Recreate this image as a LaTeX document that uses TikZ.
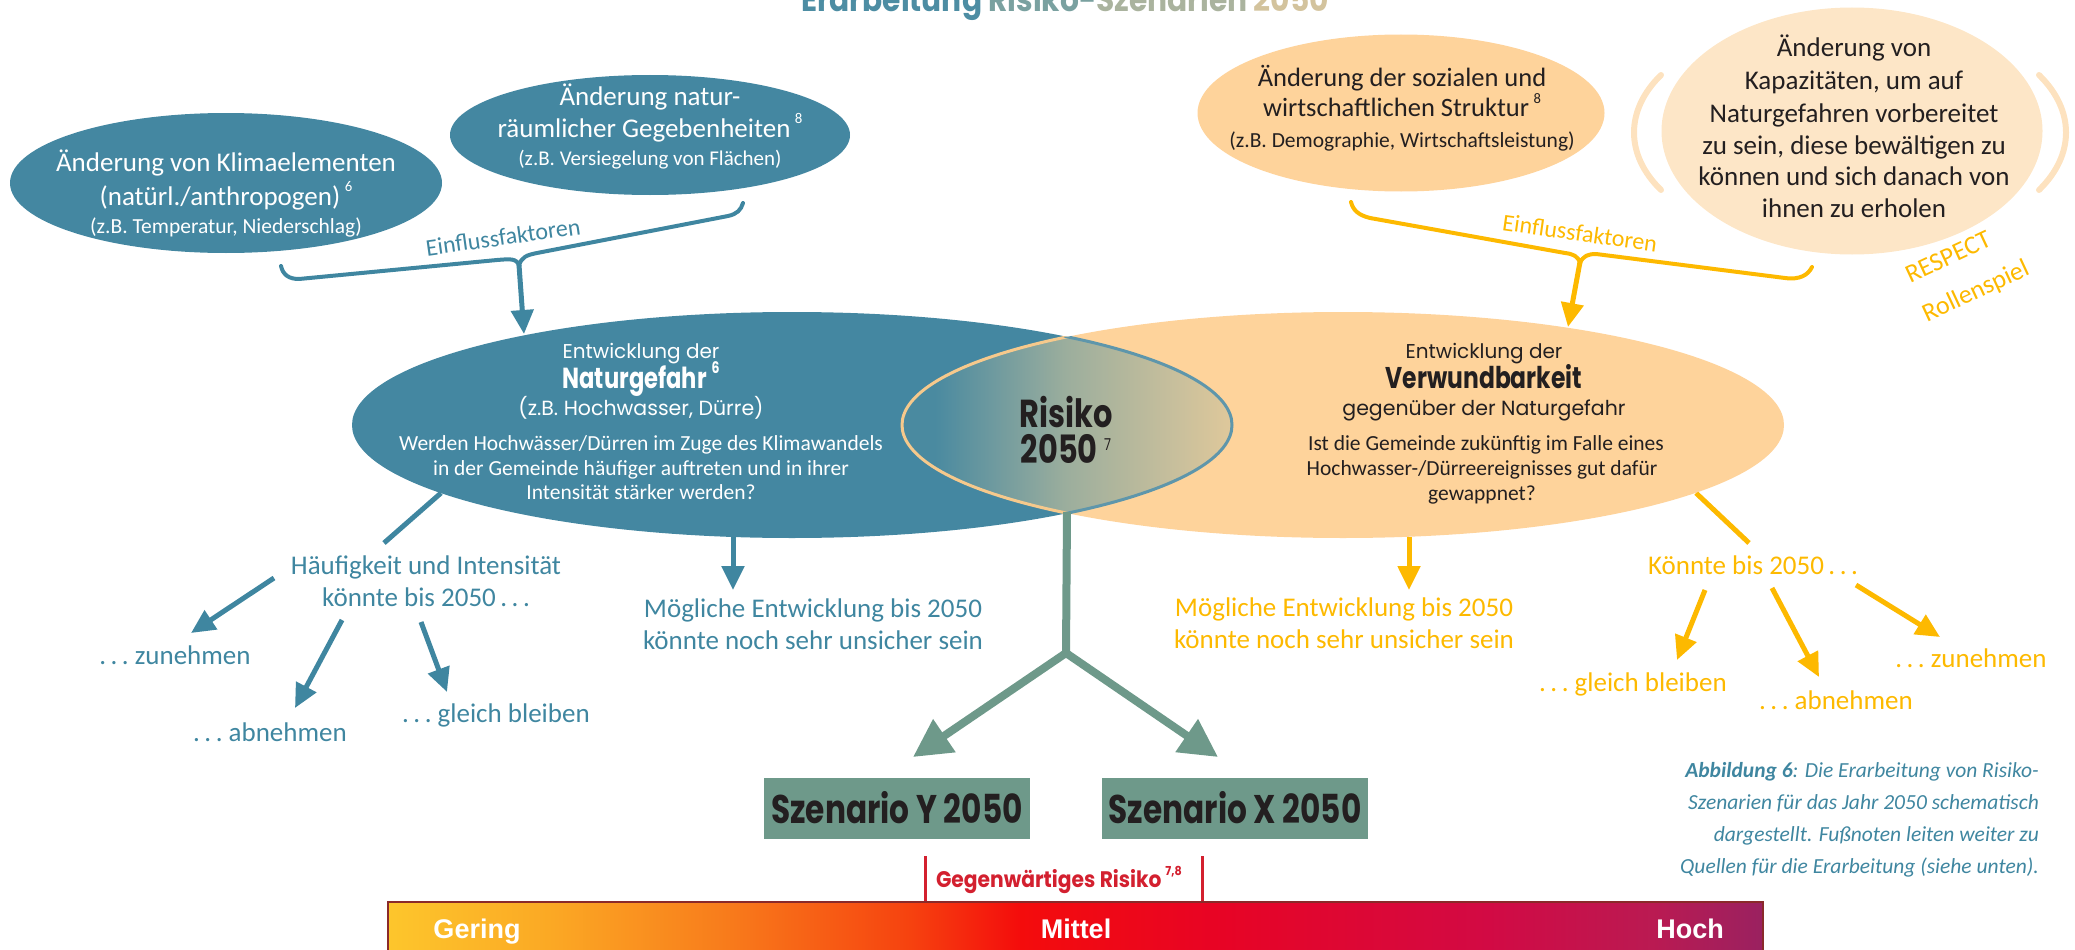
\documentclass[tikz,border=0pt]{standalone}
\usepackage{fontspec}
\setmainfont{Carlito}
\newfontfamily\geo{Poppins}
\newfontfamily\geoc{Poppins}[FakeStretch=0.78]
\newfontfamily\geom{Poppins}[FakeStretch=0.9]
\newfontfamily\helv{Liberation Sans}
\usetikzlibrary{arrows.meta,shapes.geometric}
\newcommand\fsz[1]{\fontsize{#1}{#1}\selectfont}
\newcommand\supx[1]{\raisebox{0.5em}{\scalebox{0.55}{#1}}}
\definecolor{cblue}{HTML}{4487A1}
\definecolor{ctblue}{HTML}{3F86A0}
\definecolor{corange}{HTML}{FED39B}
\definecolor{clight}{HTML}{FDE6C7}
\definecolor{cparen}{HTML}{FDE2BF}
\definecolor{cgold}{HTML}{FDB900}
\definecolor{cgreen}{HTML}{6E998A}
\definecolor{cdark}{HTML}{231F20}
\definecolor{cred}{HTML}{D3202F}
\definecolor{lensL}{HTML}{4A8AA0}
\definecolor{lensM}{HTML}{9CAE9D}
\definecolor{lensR}{HTML}{DFC89B}
\definecolor{lensO}{HTML}{F6C98C}
\definecolor{lensB}{HTML}{5E96AB}
\definecolor{tA}{HTML}{4D8DA3}
\definecolor{tB}{HTML}{7AA1A0}
\definecolor{tC}{HTML}{AAB39E}
\definecolor{tD}{HTML}{D3C39D}
\definecolor{b0}{HTML}{FDC62C}
\definecolor{b1}{HTML}{FBA824}
\definecolor{b2}{HTML}{F87A1B}
\definecolor{b3}{HTML}{F6420F}
\definecolor{b4}{HTML}{F40C0C}
\definecolor{b5}{HTML}{E80424}
\definecolor{b6}{HTML}{D20A44}
\definecolor{b7}{HTML}{BA1A52}
\definecolor{b8}{HTML}{9A2160}
\definecolor{barborder}{HTML}{8A2A2A}
\pgfdeclarehorizontalshading{riskbar}{100bp}{color(0bp)=(b0); color(25bp)=(b0); color(31bp)=(b1); color(37.5bp)=(b2); color(44bp)=(b3); color(48bp)=(b4); color(55bp)=(b5); color(65bp)=(b6); color(71bp)=(b7); color(75bp)=(b8); color(100bp)=(b8)}
\pgfdeclarehorizontalshading{lensshade}{100bp}{color(0bp)=(lensL); color(25bp)=(lensL); color(30bp)=(lensL); color(50bp)=(lensM); color(75bp)=(lensR); color(100bp)=(lensR)}
\begin{document}
\begin{tikzpicture}[x=1pt,y=-1pt,
  ell/.style={ellipse, inner sep=0pt, outer sep=0pt},
  lbl/.style={anchor=base, inner sep=0pt, outer sep=0pt},
  wt/.style={lbl, text=white},
  dk/.style={lbl, text=cdark},
  bt/.style={lbl, text=ctblue, font=\fsz{27}},
  gt/.style={lbl, text=cgold, font=\fsz{27}},
  barr/.style={draw=ctblue, line width=5pt, -{Triangle[length=24pt,width=22pt]}},
  garr/.style={draw=cgold, line width=5pt, -{Triangle[length=24pt,width=22pt]}},
  sarr/.style={draw=cgreen, line width=8pt, -{Triangle[length=38pt,width=38pt]}},
  bracepath/.style={line width=4pt, line cap=round, line join=round},
  scen/.style={rectangle, fill=cgreen, minimum width=266pt, minimum height=61pt, inner sep=0pt, text=cdark, font=\geoc\bfseries\fsz{40}},
  barlbl/.style={lbl, text=white, font=\helv\bfseries\fsz{27}},
  capt/.style={anchor=base east, inner sep=0pt, text=ctblue, font=\itshape\fsz{21.5}}
]
\useasboundingbox (0,0) rectangle (2075,950);
\clip (0,0) rectangle (2075,950);

% title (cut off at top)
\node[lbl, font=\geom\bfseries\fsz{33}] (title) at (1065,12)
  {\textcolor{tA}{Erarbeitung} \textcolor{tB}{Risiko-}\textcolor{tC}{Szenarien} \textcolor{tD}{2050}};

% ---------- upper left ellipses ----------
\node[ell, fill=cblue, minimum width=432pt, minimum height=140pt] (klima) at (226,183) {};
\node[ell, fill=cblue, minimum width=400pt, minimum height=120pt] (natur) at (650,135) {};
\node[wt, font=\fsz{27}] (k1) at (226,171) {Änderung von Klimaelementen};
\node[wt, font=\fsz{27}] (k2) at (226,205) {(natürl./anthropogen)\,\supx{6}};
\node[wt, font=\fsz{21.5}] (k3) at (226,233) {(z.B. Temperatur, Niederschlag)};
\node[wt, font=\fsz{27}] (n1) at (650,106) {Änderung natur-};
\node[wt, font=\fsz{27}] (n2) at (650,137) {räumlicher Gegebenheiten\,\supx{8}};
\node[wt, font=\fsz{21}] (n3) at (650,165) {(z.B. Versiegelung von Flächen)};

% blue brace
\draw[bracepath, ctblue] (281,266) .. controls (283,275) and (289,279) .. (299,279)
  -- (497,260) .. controls (510,259) and (517,258) .. (519,266)
  .. controls (521,257) and (527,255) .. (537,253)
  -- (728,216) .. controls (737,214) and (741,210) .. (743,203);
\node[text=ctblue, font=\fsz{24}, rotate=8, inner sep=0pt] (einfl1) at (503,237) {Einflussfaktoren};

% ---------- upper right ellipses ----------
\node[ell, fill=corange, minimum width=407pt, minimum height=157pt] (sozial) at (1401,113) {};
\node[ell, fill=clight, minimum width=381pt, minimum height=247pt] (kapaz) at (1852,131) {};
\draw[cparen, line width=6pt, line cap=round] (1661,75) .. controls (1625,110) and (1625,155) .. (1661,190);
\draw[cparen, line width=6pt, line cap=round] (2039,75) .. controls (2075,110) and (2075,155) .. (2039,190);
\node[dk, font=\fsz{26.5}] (s1) at (1402,86) {Änderung der sozialen und};
\node[dk, font=\fsz{26.5}] (s2) at (1402,117) {wirtschaftlichen Struktur\,\supx{8}};
\node[dk, font=\fsz{21.5}] (s3) at (1402,147) {(z.B. Demographie, Wirtschaftsleistung)};
\node[dk, font=\fsz{27}] (c1) at (1854,57) {Änderung von};
\node[dk, font=\fsz{27}] (c2) at (1854,89) {Kapazitäten, um auf};
\node[dk, font=\fsz{27}] (c3) at (1854,122) {Naturgefahren vorbereitet};
\node[dk, font=\fsz{27}] (c4) at (1854,154) {zu sein, diese bewältigen zu};
\node[dk, font=\fsz{27}] (c5) at (1854,185) {können und sich danach von};
\node[dk, font=\fsz{27}] (c6) at (1854,217) {ihnen zu erholen};
\node[text=cgold, font=\fsz{26}, rotate=25, inner sep=0pt] (resp1) at (1948,257) {RESPECT};
\node[text=cgold, font=\fsz{26}, rotate=25, inner sep=0pt] (resp2) at (1976,292) {Rollenspiel};

% orange brace
\draw[bracepath, cgold] (1351,202) .. controls (1353,210) and (1358,215) .. (1370,218)
  -- (1565,253) .. controls (1573,254) and (1578,256) .. (1580,263)
  .. controls (1583,256) and (1588,254) .. (1596,254)
  -- (1785,278) .. controls (1800,280) and (1808,275) .. (1812,267);
\node[text=cgold, font=\fsz{24}, rotate=-8, inner sep=0pt] (einfl2) at (1580,233) {Einflussfaktoren};

% ---------- connectors from big ellipses (drawn first) ----------
\coordinate (lbStart) at (441,493);
\coordinate (lbEnd) at (384,543);
\coordinate (rbStart) at (1696,493);
\coordinate (rbEnd) at (1749,543);
\draw[ctblue, line width=5pt] (lbStart) -- (lbEnd);
\draw[cgold, line width=5pt] (rbStart) -- (rbEnd);

% ---------- big ellipses ----------
\node[ell, fill=cblue, minimum width=880pt, minimum height=226pt] (E) at (792,425) {};
\node[ell, fill=corange, minimum width=882pt, minimum height=226pt] (F) at (1343,425) {};
\begin{scope}
  \clip (E.center) ellipse [x radius=440, y radius=113];
  \clip (F.center) ellipse [x radius=441, y radius=113];
  \shade[shading=lensshade] (902,330) rectangle (1232,520);
\end{scope}
\begin{scope}
  \clip (E.center) ellipse [x radius=440, y radius=113];
  \draw[lensO, line width=3pt] (F.center) ellipse [x radius=441, y radius=113];
\end{scope}
\begin{scope}
  \clip (F.center) ellipse [x radius=441, y radius=113];
  \draw[lensB, line width=3pt] (E.center) ellipse [x radius=440, y radius=113];
\end{scope}

% texts in big ellipses
\node[wt, font=\geo\fsz{20}] (e1) at (641,358) {Entwicklung der};
\node[wt, font=\geoc\bfseries\fsz{29}] (e2) at (641,388) {Naturgefahr\,\supx{6}};
\node[wt, font=\geo\fsz{20.5}] (e3) at (641,415) {(z.B. Hochwasser, Dürre)};
\node[wt, font=\fsz{21.5}] (e4) at (641,450) {Werden Hochwässer/Dürren im Zuge des Klimawandels};
\node[wt, font=\fsz{21.5}] (e5) at (641,475) {in der Gemeinde häufiger auftreten und in ihrer};
\node[wt, font=\fsz{21.5}] (e6) at (641,499) {Intensität stärker werden?};
\node[dk, font=\geo\fsz{20}] (f1) at (1484,358) {Entwicklung der};
\node[dk, font=\geoc\bfseries\fsz{30}] (f2) at (1484,388) {Verwundbarkeit};
\node[dk, font=\geo\fsz{20.5}] (f3) at (1484,415) {gegenüber der Naturgefahr};
\node[dk, font=\fsz{21.5}] (f4) at (1486,450) {Ist die Gemeinde zukünftig im Falle eines};
\node[dk, font=\fsz{21.5}] (f5) at (1482,475) {Hochwasser-/Dürreereignisses gut dafür};
\node[dk, font=\fsz{21.5}] (f6) at (1482,500) {gewappnet?};
\node[dk, font=\geoc\bfseries\fsz{39}] (r1) at (1066,427) {Risiko};
\node[dk, font=\geoc\bfseries\fsz{39}] (r2) at (1066,463) {2050\,\raisebox{0.32em}{\scalebox{0.42}{\mdseries 7}}};

% brace arrows
\coordinate (bbTip) at (519,265);
\coordinate (eTop) at (524,334);
\coordinate (obTip) at (1580,262);
\coordinate (fTop) at (1568,327);
\draw[barr] (bbTip) -- (eTop);
\draw[garr] (obTip) -- (fTop);

% ---------- lower left ----------
\node[bt] (h1) at (426,574) {Häufigkeit und Intensität};
\node[bt] (h2) at (426,606) {könnte bis 2050\,.\,.\,.};
\node[bt] (hz) at (175,664) {.\,.\,.\ zunehmen};
\node[bt] (ha) at (270,741) {.\,.\,.\ abnehmen};
\node[bt] (hg) at (496,722) {.\,.\,.\ gleich bleiben};
\node[bt] (m1) at (813,617) {Mögliche Entwicklung bis 2050};
\node[bt] (m2) at (813,649) {könnte noch sehr unsicher sein};
\coordinate (hzS) at (274,578); \coordinate (hzT) at (191,633);
\coordinate (haS) at (342,620); \coordinate (haT) at (295,708);
\coordinate (hgS) at (421,622); \coordinate (hgT) at (447,692);
\coordinate (eBot) at (733,537); \coordinate (mTop) at (733,590);
\draw[barr] (hzS) -- (hzT);
\draw[barr] (haS) -- (haT);
\draw[barr] (hgS) -- (hgT);
\draw[barr] (eBot) -- (mTop);

% ---------- lower right ----------
\node[gt] (g1) at (1753,574) {Könnte bis 2050\,.\,.\,.};
\node[gt] (gg) at (1633,691) {.\,.\,.\ gleich bleiben};
\node[gt] (ga) at (1836,709) {.\,.\,.\ abnehmen};
\node[gt] (gz) at (1971,667) {.\,.\,.\ zunehmen};
\node[gt] (o1) at (1344,616) {Mögliche Entwicklung bis 2050};
\node[gt] (o2) at (1344,648) {könnte noch sehr unsicher sein};
\coordinate (ggS) at (1705,590); \coordinate (ggT) at (1677,660);
\coordinate (gaS) at (1772,588); \coordinate (gaT) at (1819,677);
\coordinate (gzS) at (1856,585); \coordinate (gzT) at (1940,637);
\coordinate (fBot) at (1409,537); \coordinate (oTop) at (1409,590);
\draw[garr] (ggS) -- (ggT);
\draw[garr] (gaS) -- (gaT);
\draw[garr] (gzS) -- (gzT);
\draw[garr] (fBot) -- (oTop);

% ---------- scenarios ----------
\coordinate (lensBot) at (1067,512);
\coordinate (junc) at (1066,653);
\coordinate (yTip) at (913,757);
\coordinate (xTip) at (1218,757);
\draw[cgreen, line width=8pt] (lensBot) -- (junc);
\draw[sarr] (junc) -- (yTip);
\draw[sarr] (junc) -- (xTip);
\node[scen] (scY) at (897,808) {Szenario Y 2050};
\node[scen] (scX) at (1235,808) {Szenario X 2050};

% ---------- current risk & bar ----------
\coordinate (rlA) at (925,856); \coordinate (rlB) at (925,906);
\coordinate (rrA) at (1202,856); \coordinate (rrB) at (1202,906);
\draw[cred, line width=3pt] (rlA) -- (rlB);
\draw[cred, line width=3pt] (rrA) -- (rrB);
\node[lbl, anchor=base west, text=cred, font=\geom\bfseries\fsz{22.5}] (gegen) at (936,887) {Gegenwärtiges Risiko\,\supx{7,8}};
\shade[shading=riskbar] (388,902) rectangle (1763,962);
\draw[barborder, line width=1.5pt] (388,902) rectangle (1763,962);
\node[barlbl] (gering) at (477,938) {Gering};
\node[barlbl] (mittel) at (1076,938) {Mittel};
\node[barlbl] (hoch) at (1690,938) {Hoch};

% ---------- caption ----------
\node[capt] (cap1) at (2039,777) {\textbf{Abbildung 6}: Die Erarbeitung von Risiko-};
\node[capt] (cap2) at (2039,809) {Szenarien für das Jahr 2050 schematisch};
\node[capt] (cap3) at (2039,841) {dargestellt. Fußnoten leiten weiter zu};
\node[capt] (cap4) at (2039,873) {Quellen für die Erarbeitung (siehe unten).};
\end{tikzpicture}
\end{document}
